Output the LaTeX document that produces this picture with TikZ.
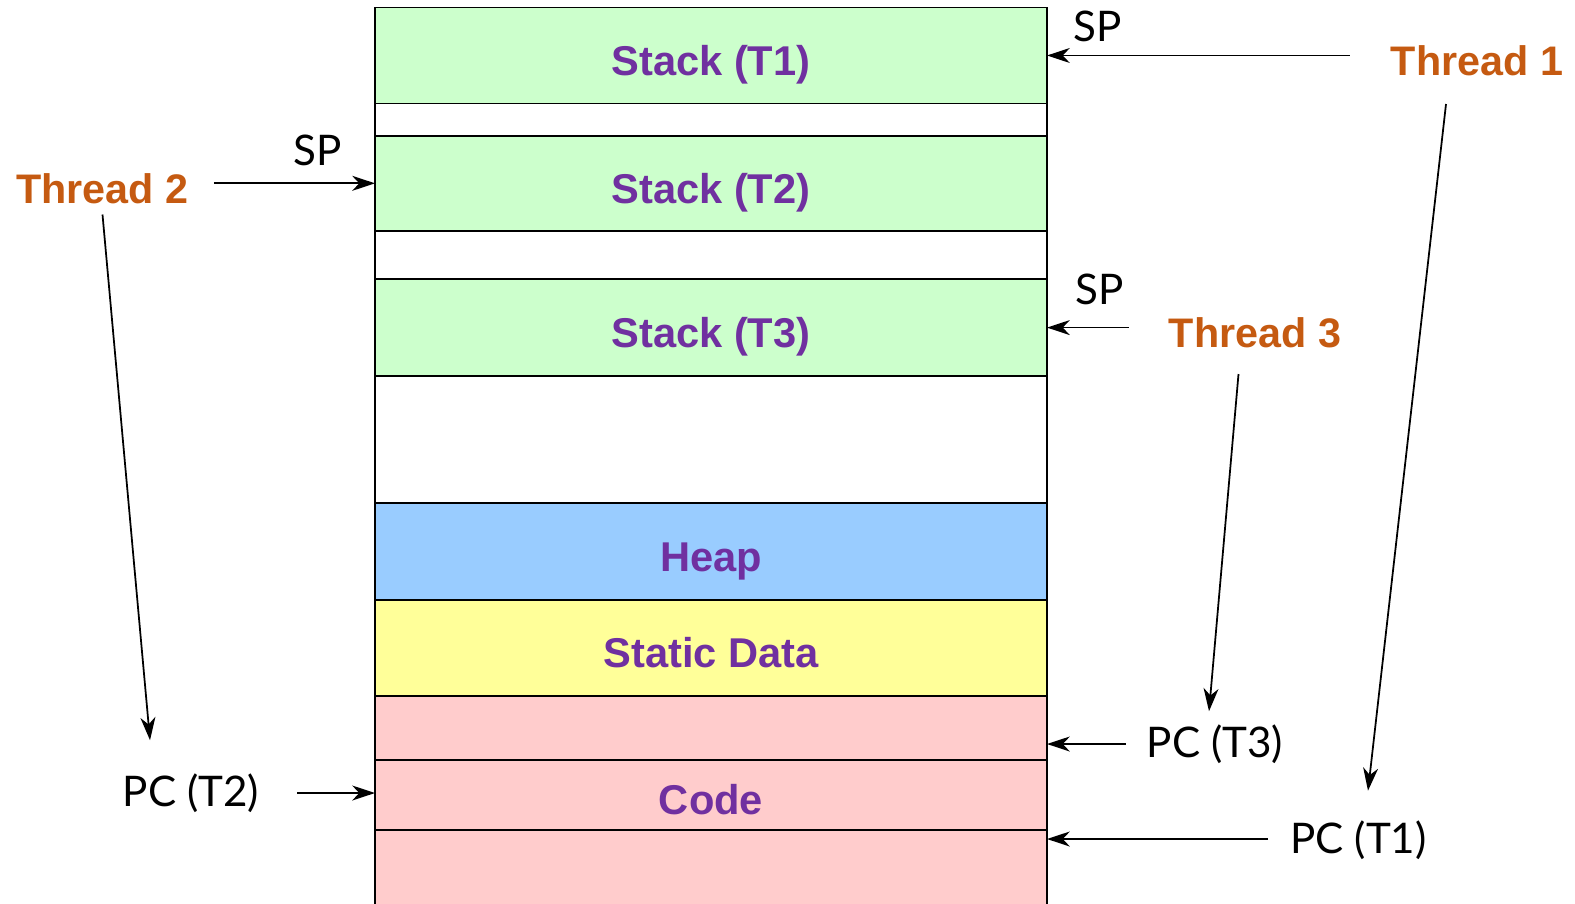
\documentclass[tikz,border=0pt]{standalone}
\usepackage{xcolor}
\usepackage{fontspec}
\setmainfont{Liberation Sans}
\newfontfamily\regfont{Lato}
\usepackage{tikz}
\usetikzlibrary{arrows.meta, positioning}
\definecolor{stackgreen}{HTML}{CCFFCC}
\definecolor{heapblue}{HTML}{99CCFF}
\definecolor{datayellow}{HTML}{FFFF99}
\definecolor{codepink}{HTML}{FFCCCC}
\definecolor{segpurple}{HTML}{7030A0}
\definecolor{threadorange}{HTML}{C55A11}
\tikzstyle{band} = [rectangle, draw=black, line width=1.1pt, minimum width=13.44cm, inner sep=0pt, outer sep=0pt, text=segpurple, font=\fontsize{23.7}{28}\selectfont\bfseries, text height=22.5pt, text depth=0pt]
\tikzstyle{gap} = [band, text height=0pt]
\tikzstyle{thread} = [inner sep=0pt, text=threadorange, font=\fontsize{23.5}{28}\selectfont\bfseries]
\tikzstyle{reg} = [inner sep=0pt, font=\regfont\fontsize{24}{28}\selectfont]
\tikzstyle{ptr} = [-{Stealth[length=13pt, width=8.5pt, inset=4pt]}, line width=1pt]

\begin{document}
\begin{tikzpicture}[x=0.02cm, y=-0.02cm]
      \useasboundingbox (0,0) rectangle (1575,903);
      % address space, top to bottom
      \node (stackA) [band, fill=stackgreen, minimum height=1.92cm, anchor=north] at (711,7.5) {Stack (T1)};
      \node (gapA) [gap, minimum height=0.644cm, below=0pt of stackA] {};
      \node (stackB) [band, fill=stackgreen, minimum height=1.906cm, below=0pt of gapA] {Stack (T2)};
      \node (gapB) [gap, minimum height=0.966cm, below=0pt of stackB] {};
      \node (stackC) [band, fill=stackgreen, minimum height=1.934cm, below=0pt of gapB] {Stack (T3)};
      \node (gapC) [gap, minimum height=2.546cm, below=0pt of stackC] {};
      \node (heap) [band, fill=heapblue, minimum height=1.934cm, below=0pt of gapC] {Heap};
      \node (static) [band, fill=datayellow, minimum height=1.92cm, below=0pt of heap] {Static Data};
      \node (codeA) [gap, fill=codepink, minimum height=1.28cm, below=0pt of static] {};
      \node (codeB) [band, fill=codepink, minimum height=1.4cm, below=0pt of codeA] {Code};
      \node (codeC) [gap, fill=codepink, minimum height=2cm, below=0pt of codeB] {};

      % threads and registers
      \node (thrA) [thread] at (1477,61) {Thread 1};
      \node (thrB) [thread] at (102.5,189) {Thread 2};
      \node (thrC) [thread] at (1255,333) {Thread 3};
      \node (spA) [reg] at (1098,26) {SP};
      \node (spB) [reg] at (318,150) {SP};
      \node (spC) [reg] at (1100,289) {SP};
      \node (pcA) [reg] at (1358.5,840.5) {PC (T1)};
      \node (pcB) [reg] at (191,793) {PC (T2)};
      \node (pcC) [reg] at (1215,744) {PC (T3)};

      \draw[ptr] ([xshift=-0.82cm]thrA.west |- stackA.east) -- (stackA.east);
      \draw[ptr] ([xshift=0.5cm]thrB.east |- stackB.west) -- (stackB.west);
      \draw[ptr] ([xshift=-0.8cm]thrC.west |- stackC.east) -- (stackC.east);
      \draw[ptr] ([xshift=-0.42cm]pcC.west) -- (pcC.west -| codeA.east);
      \draw[ptr] ([xshift=0.76cm]pcB.east) -- (pcB.east -| codeB.west);
      \draw[ptr] ([xshift=-0.44cm,yshift=0.03cm]pcA.west) -- ([yshift=0.03cm]pcA.west -| codeC.east);
      \draw[ptr] ([yshift=-0.2cm]thrB.south) -- ([xshift=-0.82cm,yshift=0.66cm]pcB.north);
      \draw[ptr] ([xshift=-0.33cm,yshift=-0.51cm]thrC.south) -- ([xshift=-0.12cm,yshift=0.26cm]pcC.north);
      \draw[ptr] ([xshift=-0.62cm,yshift=-0.55cm]thrA.south) -- ([xshift=0.19cm,yshift=0.6cm]pcA.north);
    \end{tikzpicture}
\end{document}
